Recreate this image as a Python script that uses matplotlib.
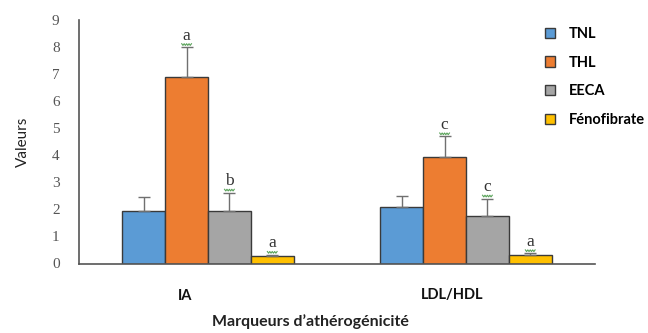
import numpy as np
import matplotlib.pyplot as plt
from matplotlib.transforms import Affine2D, ScaledTranslation, offset_copy

plt.rcParams["font.family"] = ["Lato", "DejaVu Sans"]

groups = ["IA", "LDL/HDL"]
series = ["TNL", "THL", "EECA", "Fénofibrate"]
colors = ["#5B9BD5", "#ED7D31", "#A5A5A5", "#FFC000"]

# mean values and error bars (one list per series, IA then LDL/HDL)
tnl = [1.95, 2.08]
thl = [6.9, 3.92]
eeca = [1.95, 1.75]
feno = [0.27, 0.33]
tnl_err = [0.5, 0.4]
thl_err = [1.1, 0.78]
eeca_err = [0.67, 0.65]
feno_err = [0.05, 0.05]

# significance letters (None = no letter)
tnl_sig = [None, None]
thl_sig = ["a", "c"]
eeca_sig = ["b", "c"]
feno_sig = ["a", "a"]

values = [tnl, thl, eeca, feno]
errors = [tnl_err, thl_err, eeca_err, feno_err]
letters = [tnl_sig, thl_sig, eeca_sig, feno_sig]

fig = plt.figure(figsize=(6.48, 3.33), dpi=100)
ax = fig.add_axes([79 / 648, 69.5 / 333, 516 / 648, 243.5 / 333])

pt = fig.dpi / 72
squig_x = np.linspace(-3.5, 3.5, 9)
squig_y = np.array([0, -1.2] * 4 + [0])

x = np.arange(len(groups))
w = 0.166
for i, name in enumerate(series):
    pos = x + (i - 1.5) * w
    ax.bar(pos, values[i], w, color=colors[i], edgecolor="#3a3a3a",
           linewidth=1.0, label=name, zorder=2)
    ax.errorbar(pos, values[i], yerr=[np.zeros(len(groups)), errors[i]],
                fmt="none", ecolor="#707070", elinewidth=1.0, capsize=4,
                capthick=1.0, zorder=3)
    for j, lab in enumerate(letters[i]):
        if lab is None:
            continue
        top = values[i][j] + errors[i][j]
        ax.text(pos[j], top, lab, ha="center", va="bottom",
                fontsize=12.5, family="Liberation Serif", color="#333333",
                transform=offset_copy(ax.transData, fig, y=2.5, units="points"))
        # green proofing squiggle under the letter (drawn in points)
        tr = (Affine2D().scale(pt).translate(0, 2.4 * pt)
              + ScaledTranslation(pos[j], top, ax.transData))
        ax.plot(squig_x, squig_y, color="#5aa35a", lw=0.8, transform=tr,
                clip_on=False, zorder=4)

ax.set_xlim(-0.5, 1.5)
ax.set_ylim(0, 9)
ax.set_yticks(range(10))
ax.tick_params(axis="y", length=0, pad=14, labelsize=11, labelcolor="#555555")
for t in ax.get_yticklabels():
    t.set_family("Liberation Serif")

# category labels sit slightly left of the group centres
ax.set_xticks(x - np.array([0.09, 0.053]))
ax.set_xticklabels(groups, fontsize=10.5, fontweight="bold", color="#111111")
ax.tick_params(axis="x", length=0, pad=18)

for s in ["top", "right"]:
    ax.spines[s].set_visible(False)
for s in ["left", "bottom"]:
    ax.spines[s].set_color("#555555")
    ax.spines[s].set_linewidth(1.2)

ax.set_ylabel("Valeurs", fontsize=11, color="#222222", labelpad=16)
fig.text(310 / 648, 1 - 322 / 333, "Marqueurs d\u2019athérogénicité",
         ha="center", va="center", fontsize=11.5, fontweight="bold",
         color="#222222")

ax.legend(loc="upper left", bbox_to_anchor=(532 / 648, 1 - 14 / 333),
          bbox_transform=fig.transFigure, frameon=False,
          handlelength=0.7, handleheight=0.7, handletextpad=0.9,
          labelspacing=1.0, prop={"size": 10.5, "weight": "bold"})

fig.savefig("out.png", dpi=100)
